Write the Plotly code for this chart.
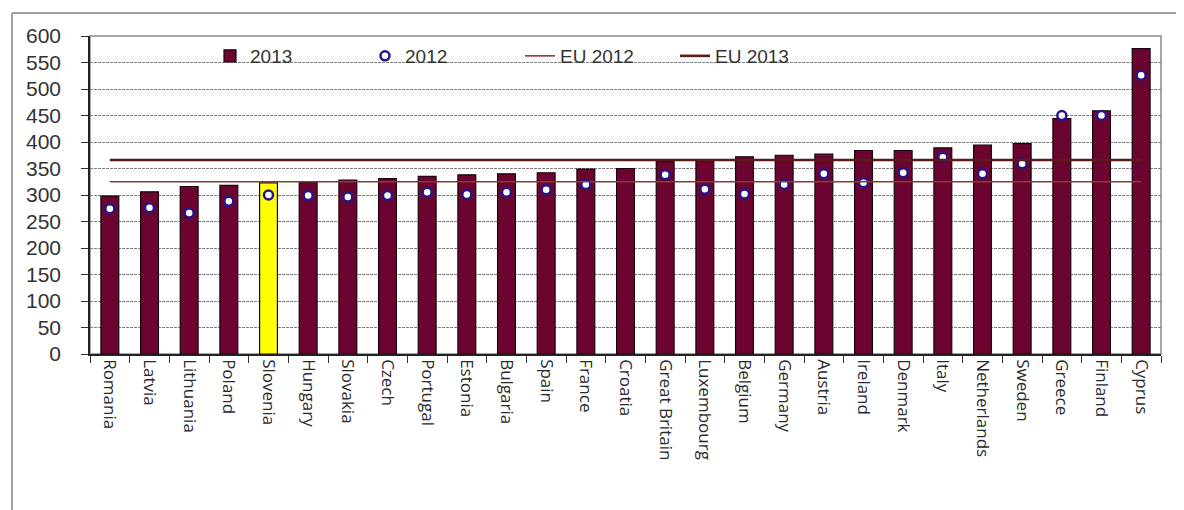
import plotly.graph_objects as go

countries = ["Romania", "Latvia", "Lithuania", "Poland", "Slovenia", "Hungary", "Slovakia",
             "Czech", "Portugal", "Estonia", "Bulgaria", "Spain", "France", "Croatia",
             "Great Britain", "Luxembourg", "Belgium", "Germany", "Austria", "Ireland",
             "Denmark", "Italy", "Netherlands", "Sweden", "Greece", "Finland", "Cyprus"]
values_2013 = [298, 306, 316, 318, 323, 324, 328, 331, 335, 338, 340, 342, 349, 350,
               363, 365, 372, 375, 377, 384, 384, 389, 394, 397, 444, 459, 576]
values_2012 = [274, 276, 266, 288, 300, 299, 296, 299, 305, 301, 305, 310, 320, None,
               338, 311, 302, 320, 340, 323, 342, 371, 340, 359, 450, 450, 526]
eu_2012 = 325
eu_2013 = 366
highlight = "Slovenia"
y_ticks = list(range(0, 601, 50))

BAR = "#6B0530"
bar_colors = ["#FFFF00" if c == highlight else BAR for c in countries]

fig = go.Figure()
fig.add_trace(go.Bar(
    x=countries, y=values_2013, name="2013",
    marker=dict(color=bar_colors, line=dict(color="#1a0010", width=1.2)),
    width=0.45,
))
fig.add_trace(go.Scatter(
    x=countries, y=values_2012, name="2012", mode="markers",
    marker=dict(symbol="circle", size=9, color="white",
                line=dict(color="#22168A", width=2.5)),
))
fig.add_trace(go.Scatter(
    x=countries, y=[eu_2012] * len(countries), name="EU 2012", mode="lines",
    line=dict(color="#8E3B2E", width=1.6),
))
fig.add_trace(go.Scatter(
    x=countries, y=[eu_2013] * len(countries), name="EU 2013", mode="lines",
    line=dict(color="#5E1A1A", width=2.6),
))

# page has an 8px body margin; work in page pixels and convert
OFF = 8
W, H = 1184 - OFF, 510 - OFF
L, R, T, B = 90 - OFF, 23, 36 - OFF, 156
pw, ph = W - L - R, H - T - B
px = lambda x: (x - OFF - L) / pw
py = lambda y: (H - B - (y - OFF)) / ph

fig.update_layout(
    width=W, height=H,
    margin=dict(l=L, r=R, t=T, b=B),
    paper_bgcolor="white", plot_bgcolor="white",
    showlegend=True,
    legend=dict(
        orientation="h", x=px(210), xanchor="left", y=py(37), yanchor="top",
        bgcolor="rgba(0,0,0,0)", font=dict(family="Liberation Sans, Arial", size=19, color="#333333"),
        entrywidth=110, entrywidthmode="pixels", traceorder="normal",
    ),
    font=dict(family="Liberation Sans, Arial", color="#333333"),
    shapes=[
        dict(type="rect", xref="paper", yref="paper", x0=0, x1=1, y0=0, y1=1,
             line=dict(color="#A6A6A6", width=2), layer="below"),
        dict(type="line", xref="paper", yref="paper", x0=px(12), x1=px(1200), y0=py(13), y1=py(13),
             line=dict(color="#A0A0A0", width=2)),
        dict(type="line", xref="paper", yref="paper", x0=px(12), x1=px(12), y0=py(13), y1=py(530),
             line=dict(color="#A0A0A0", width=2)),
    ],
)
fig.update_xaxes(
    type="category", range=[-0.5, len(countries) - 0.5], autorange=False,
    tickangle=90, tickson="boundaries", ticks="outside", ticklen=7,
    tickcolor="#333333", showline=True, linecolor="#222222", linewidth=1.5,
    showgrid=False, tickfont=dict(family="Open Sans", size=17, color="#2a2a2a"),
)
fig.update_yaxes(
    range=[0, 600], autorange=False, tickvals=y_ticks, ticks="outside", ticklen=7, tickcolor="#333333",
    showline=True, linecolor="#222222", linewidth=1.5,
    showgrid=True, gridcolor="#7F7F7F", gridwidth=1, griddash="3px,1px",
    zeroline=False, ticklabelstandoff=16,
    tickfont=dict(family="Liberation Sans, Arial", size=21, color="#333333"),
)

fig.write_html("out.html")
